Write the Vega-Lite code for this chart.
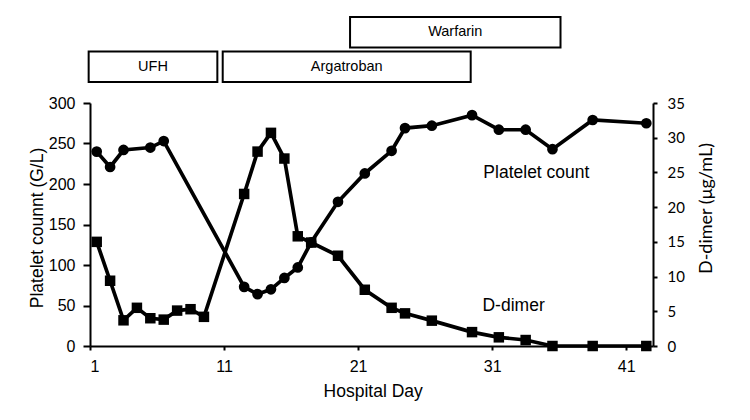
{
  "$schema": "https://vega.github.io/schema/vega-lite/v6.json",
  "width": 563,
  "height": 243,
  "autosize": {"type": "none"},
  "padding": {"left": 90, "top": 103, "right": 97, "bottom": 74},
  "background": "white",
  "config": {
    "view": {"stroke": null},
    "axis": {
      "grid": false,
      "domainColor": "black",
      "tickColor": "black",
      "labelColor": "black",
      "titleColor": "black",
      "domainWidth": 2,
      "tickWidth": 2,
      "labelFont": "Liberation Sans",
      "titleFont": "Liberation Sans",
      "titleFontWeight": "normal"
    }
  },
  "datasets": {
    "platelet": [
      {"day": 1, "value": 240}, {"day": 2, "value": 221}, {"day": 3, "value": 242},
      {"day": 5, "value": 245}, {"day": 6, "value": 253}, {"day": 12, "value": 73},
      {"day": 13, "value": 64}, {"day": 14, "value": 70}, {"day": 15, "value": 84},
      {"day": 16, "value": 97}, {"day": 17, "value": 128}, {"day": 19, "value": 178},
      {"day": 21, "value": 213}, {"day": 23, "value": 241}, {"day": 24, "value": 269},
      {"day": 26, "value": 272}, {"day": 29, "value": 285}, {"day": 31, "value": 267},
      {"day": 33, "value": 267}, {"day": 35, "value": 243}, {"day": 38, "value": 279},
      {"day": 42, "value": 275}
    ],
    "ddimer": [
      {"day": 1, "value": 15.0}, {"day": 2, "value": 9.4}, {"day": 3, "value": 3.7},
      {"day": 4, "value": 5.5}, {"day": 5, "value": 4.0}, {"day": 6, "value": 3.8},
      {"day": 7, "value": 5.1}, {"day": 8, "value": 5.3}, {"day": 9, "value": 4.2},
      {"day": 12, "value": 21.9}, {"day": 13, "value": 28.0}, {"day": 14, "value": 30.7},
      {"day": 15, "value": 27.0}, {"day": 16, "value": 15.8}, {"day": 17, "value": 14.9},
      {"day": 19, "value": 13.0}, {"day": 21, "value": 8.1}, {"day": 23, "value": 5.5},
      {"day": 24, "value": 4.7}, {"day": 26, "value": 3.65}, {"day": 29, "value": 2.0},
      {"day": 31, "value": 1.25}, {"day": 33, "value": 0.86}, {"day": 35, "value": 0},
      {"day": 38, "value": 0}, {"day": 42, "value": 0}
    ],
    "labels": [
      {"day": 33.8, "value": 214, "text": "Platelet count"},
      {"day": 32.1, "value": 49.4, "text": "D-dimer"}
    ],
    "drugs": [
      {"drug": "UFH", "start": 0.4, "end": 10.0, "lane": 2},
      {"drug": "Argatroban", "start": 10.4, "end": 28.9, "lane": 2},
      {"drug": "Warfarin", "start": 19.9, "end": 35.6, "lane": 1}
    ]
  },
  "layer": [
    {
      "layer": [
        {
          "data": {"name": "platelet"},
          "mark": {
            "type": "line",
            "color": "black",
            "strokeWidth": 3.7,
            "point": {"filled": true, "shape": "circle", "size": 115, "color": "black"}
          },
          "encoding": {
            "x": {
              "field": "day",
              "type": "quantitative",
              "scale": {"domain": [0.5, 42.5], "nice": false, "zero": false},
              "axis": {
                "values": [0.5, 10.5, 20.5, 30.5, 40.5],
                "labelExpr": "format(datum.value + 0.5, 'd')",
                "tickSize": 4,
                "labelFontSize": 16,
                "labelPadding": 8,
                "title": "Hospital Day",
                "titleFontSize": 17.5,
                "titleX": 282.7,
                "titleY": 50.7,
                "titleAlign": "center",
                "titleBaseline": "alphabetic"
              }
            },
            "y": {
              "field": "value",
              "type": "quantitative",
              "scale": {"domain": [0, 300], "nice": false},
              "axis": {
                "orient": "left",
                "values": [0, 50, 100, 150, 200, 250, 300],
                "tickSize": 7,
                "labelPadding": 8,
                "labelFontSize": 16,
                "title": "Platelet counnt (G/L)",
                "titleFontSize": 17.5,
                "titleAngle": 270,
                "titleX": -48,
                "titleY": 124.5,
                "titleAlign": "center",
                "titleBaseline": "alphabetic"
              }
            }
          }
        },
        {
          "data": {"name": "labels"},
          "mark": {"type": "text", "font": "Liberation Sans", "fontSize": 17.5, "align": "center", "baseline": "middle", "color": "black"},
          "encoding": {
            "x": {"field": "day", "type": "quantitative", "title": "Hospital Day"},
            "y": {"field": "value", "type": "quantitative"},
            "text": {"field": "text"}
          }
        }
      ]
    },
    {
      "data": {"name": "ddimer"},
      "mark": {
        "type": "line",
        "color": "black",
        "strokeWidth": 3.7,
        "point": {"filled": true, "shape": "square", "size": 110, "color": "black"}
      },
      "encoding": {
        "x": {"field": "day", "type": "quantitative", "title": "Hospital Day"},
        "y": {
          "field": "value",
          "type": "quantitative",
          "scale": {"domain": [0, 35], "nice": false},
          "axis": {
            "orient": "right",
            "values": [0, 5, 10, 15, 20, 25, 30, 35],
            "tickSize": 4,
            "labelPadding": 10,
            "labelFont": "Lato",
            "labelFontSize": 15,
            "title": "D-dimer (μg/mL)",
            "titleFont": "Lato",
            "titleFontSize": 18,
            "titleAngle": 270,
            "titleX": 58,
            "titleY": 105,
            "titleAlign": "center",
            "titleBaseline": "alphabetic"
          }
        }
      }
    },
    {
      "data": {"name": "drugs"},
      "layer": [
        {
          "mark": {"type": "rect", "fill": "white", "stroke": "black", "strokeWidth": 2, "clip": false},
          "encoding": {
            "x": {"field": "start", "type": "quantitative", "title": "Hospital Day"},
            "x2": {"field": "end"},
            "y": {
              "field": "lane",
              "type": "ordinal",
              "scale": {"range": [-86, -21], "paddingInner": 0.116, "paddingOuter": 0},
              "axis": null
            }
          }
        },
        {
          "transform": [{"calculate": "(datum.start + datum.end) / 2", "as": "mid"}],
          "mark": {"type": "text", "font": "Liberation Sans", "fontSize": 14.5, "align": "center", "baseline": "middle", "color": "black", "clip": false},
          "encoding": {
            "x": {"field": "mid", "type": "quantitative", "title": "Hospital Day"},
            "y": {"field": "lane", "type": "ordinal", "axis": null},
            "text": {"field": "drug"}
          }
        }
      ]
    }
  ],
  "resolve": {"scale": {"y": "independent"}, "axis": {"y": "independent"}}
}
